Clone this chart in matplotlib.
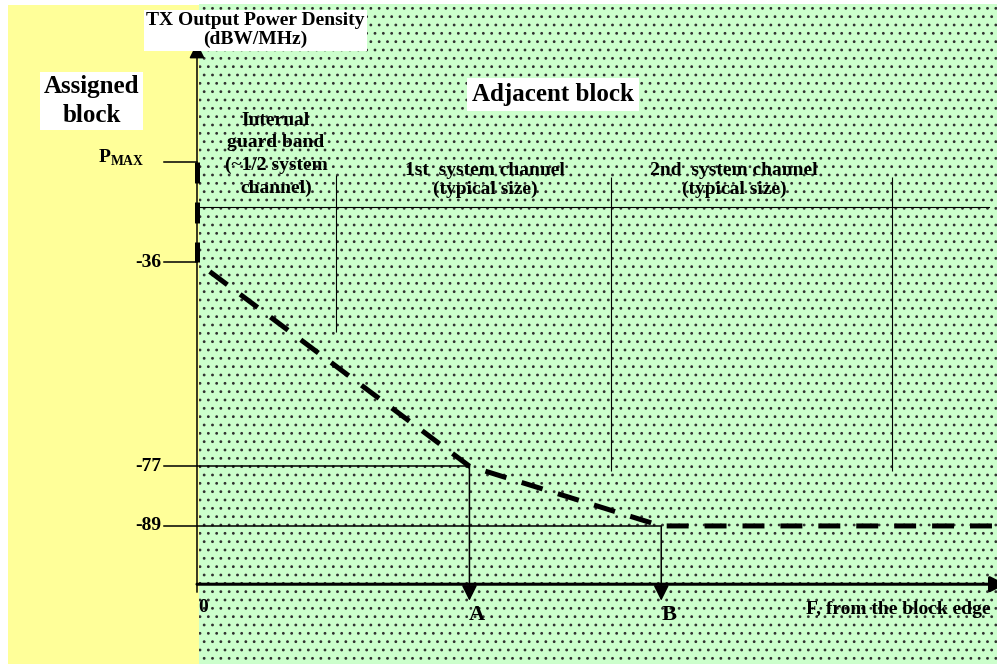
import matplotlib.pyplot as plt
from matplotlib.patches import Rectangle

plt.rcParams['font.family'] = ['Liberation Serif', 'DejaVu Serif']
plt.rcParams['font.weight'] = 'bold'
plt.rcParams['lines.scale_dashes'] = False
plt.rcParams['hatch.linewidth'] = 0.8
plt.rcParams['mathtext.fontset'] = 'custom'
plt.rcParams['mathtext.rm'] = 'Liberation Serif:bold'
plt.rcParams['mathtext.bf'] = 'Liberation Serif:bold'

# power levels (dBW/MHz)
p_max = -16
ref_level = -25
tick_levels = [-36, -77, -89]
tick_labels = ['-36', '-77', '-89']
axis_level = -100.7

# frequency offset from the block edge (in system channels)
f_a = 0.98
f_b = 1.67
f_end = 2.87
channel_edges = [0.5, 1.49, 2.5]
channel_tops = [-18.5, -19, -19]
channel_bottoms = [-50, -78, -78]

# emission mask (dashed)
mask_f = [0, f_a, f_b, f_end]
mask_p = [-36, -77, -89, -89]

x_min, x_max = -0.7086, 2.8777
y_min, y_max = -116.72, 16.61

fig = plt.figure(figsize=(9.97, 6.64), dpi=100)
ax = fig.add_axes([0, 0, 1, 1])
ax.set_xlim(x_min, x_max)
ax.set_ylim(y_min, y_max)
ax.axis('off')

# backgrounds: assigned block (yellow) and adjacent block (dotted green)
ax.add_patch(Rectangle((-0.680, y_min), 0.687, 15.6 - y_min,
                       facecolor='#ffff99', edgecolor='none', zorder=0))
ax.add_patch(Rectangle((0.007, y_min), x_max - 0.007, 15.8 - y_min,
                       facecolor='#ccffcc', edgecolor='#303030', lw=0,
                       hatch='..', zorder=0))

arrow_style = '-|>,head_length=0.47,head_width=0.235'

# axes with arrow heads
ax.annotate('', xy=(0, 8.0), xytext=(0, -102.3),
            arrowprops=dict(arrowstyle=arrow_style, mutation_scale=20,
                            lw=1.1, color='k', shrinkA=0, shrinkB=0))
ax.annotate('', xy=(2.91, axis_level), xytext=(0, axis_level),
            annotation_clip=False,
            arrowprops=dict(arrowstyle=arrow_style, mutation_scale=20,
                            lw=2.2, color='k', shrinkA=0, shrinkB=0))

# thick dashes on the y axis between P_MAX and -36
ax.plot([0, 0], [p_max, tick_levels[0]], color='k', lw=3.6,
        linestyle=(0, (15.1, 13.7)))

# tick lines
ax.plot([-0.119, 0], [p_max, p_max], color='k', lw=1.1)
ax.plot([-0.119, 0], [tick_levels[0]] * 2, color='k', lw=1.1)
ax.plot([-0.119, f_a], [tick_levels[1]] * 2, color='k', lw=1.1)
ax.plot([-0.119, f_b], [tick_levels[2]] * 2, color='k', lw=1.1)

# reference line and channel boundaries
ax.plot([0, 2.85], [ref_level, ref_level], color='k', lw=0.8)
ax.vlines(channel_edges, channel_bottoms, channel_tops, color='k', lw=0.8)

# A and B arrows
for f, p in [(f_a, tick_levels[1]), (f_b, tick_levels[2])]:
    ax.annotate('', xy=(f, -104), xytext=(f, p),
                arrowprops=dict(arrowstyle=arrow_style, mutation_scale=20,
                                lw=1.1, color='k', shrinkA=0, shrinkB=0))

# mask
ax.plot(mask_f, mask_p, color='k', lw=3.6, linestyle=(15.8, (15.8, 11.5)),
        zorder=5)

# tick labels
ax.text(-0.187, -15.1, r'$\mathrm{P}_{\mathrm{MAX}}$', fontsize=14,
        ha='right', va='center')
for lvl, lab in zip(tick_levels, tick_labels):
    ax.text(-0.129, lvl, lab, fontsize=14, ha='right', va='center')
ax.text(0.0216, -105.3, '0', fontsize=14, ha='center', va='center')
ax.text(1.007, -106.9, 'A', fontsize=16, ha='center', va='center')
ax.text(1.698, -106.9, 'B', fontsize=16, ha='center', va='center')
ax.text(2.853, -105.7, 'F, from the block edge', fontsize=14,
        ha='right', va='center')

ax.text(0.209, 10.5, 'TX Output Power Density\n(dBW/MHz)', fontsize=14,
        ha='center', va='center', linespacing=1.12,
        bbox=dict(boxstyle='square,pad=0.12', facecolor='white', edgecolor='none'))
ax.text(-0.378, -3.67, 'Assigned\nblock', fontsize=18,
        ha='center', va='center', linespacing=1.3,
        bbox=dict(boxstyle='square,pad=0.15', facecolor='white', edgecolor='none'))
ax.text(1.281, -2.27, 'Adjacent block', fontsize=18,
        ha='center', va='center',
        bbox=dict(boxstyle='square,pad=0.2', facecolor='white', edgecolor='none'))

ax.text(0.284, -14.4, 'Internal\nguard band\n(~1/2 system\nchannel)',
        fontsize=14, ha='center', va='center', linespacing=1.42)
ax.text(1.036, -19.5, '1st  system channel\n(typical size)', fontsize=14,
        ha='center', va='center', linespacing=1.08)
ax.text(1.932, -19.5, '2nd  system channel\n(typical size)', fontsize=14,
        ha='center', va='center', linespacing=1.08)

fig.savefig('out.png', dpi=100, facecolor='white')
